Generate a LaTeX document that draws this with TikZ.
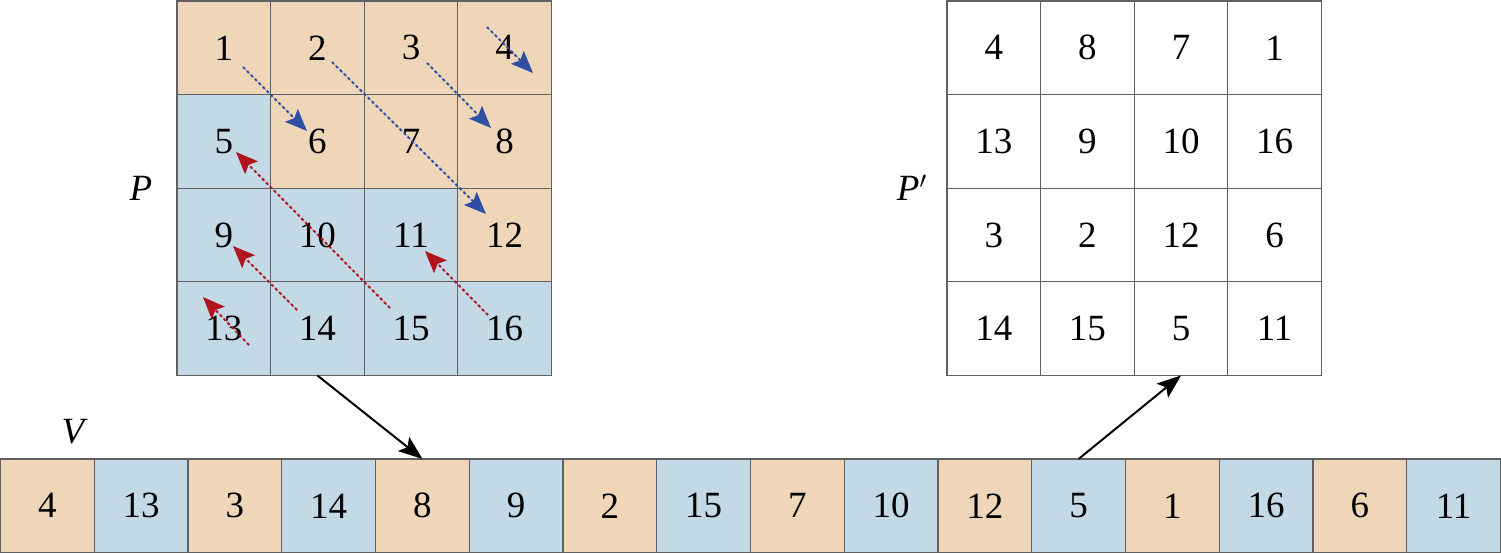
\documentclass[tikz,border=0pt]{standalone}
\usepackage{fontspec}
\setmainfont{Liberation Serif}
\usetikzlibrary{arrows.meta}
\definecolor{ctan}{RGB}{239,214,185}
\definecolor{cblue}{RGB}{196,217,230}
\definecolor{cgrid}{RGB}{96,96,96}
\definecolor{cbluearr}{RGB}{47,79,165}
\definecolor{credarr}{RGB}{176,20,30}
\tikzset{
  cell/.style={draw=cgrid, line width=0.65pt, inner sep=0pt, outer sep=0pt, minimum size=46.85pt, font=\fontsize{18.5}{20}\selectfont},
  lbl/.style={font=\fontsize{18.5}{20}\selectfont\itshape, inner sep=0pt},
  dotarr/.style={line width=1pt, dash pattern=on 1.4pt off 1.4pt, -{Stealth[length=11pt,width=9pt,inset=2pt]}},
  bluearr/.style={dotarr, draw=cbluearr, fill=cbluearr},
  redarr/.style={dotarr, draw=credarr, fill=credarr},
  maparr/.style={line width=1pt, draw=black, -{Stealth[length=12pt,width=9pt,inset=2.5pt]}}
}
\begin{document}
\begin{tikzpicture}[x=0.5pt,y=-0.5pt]
\useasboundingbox (0,0) rectangle (1501,553);
% matrix P
\foreach \lab/\col [count=\k from 0] in {1/ctan,2/ctan,3/ctan,4/ctan,5/cblue,6/ctan,7/ctan,8/ctan,9/cblue,10/cblue,11/cblue,12/ctan,13/cblue,14/cblue,15/cblue,16/cblue}{
  \pgfmathtruncatemacro\r{floor(\k/4)}
  \pgfmathtruncatemacro\c{mod(\k,4)}
  \node[cell,fill=\col] (p\lab) at ({177+93.6*(\c+0.5)},{1+93.6*(\r+0.5)}) {\lab};
}
% matrix P'
\foreach \lab [count=\k from 0] in {4,8,7,1,13,9,10,16,3,2,12,6,14,15,5,11}{
  \pgfmathtruncatemacro\r{floor(\k/4)}
  \pgfmathtruncatemacro\c{mod(\k,4)}
  \pgfmathtruncatemacro\n{\k+1}
  \node[cell,fill=white] (q\n) at ({947+93.6*(\c+0.5)},{1+93.6*(\r+0.5)}) {\lab};
}
% vector V
\foreach \lab/\col [count=\k from 0] in {4/ctan,13/cblue,3/ctan,14/cblue,8/ctan,9/cblue,2/ctan,15/cblue,7/ctan,10/cblue,12/ctan,5/cblue,1/ctan,16/cblue,6/ctan,11/cblue}{
  \pgfmathtruncatemacro\n{\k+1}
  \node[cell,fill=\col] (v\n) at ({0.6+93.74*(\k+0.5)},{459+46.8}) {\lab};
}
% labels
\node[lbl] (lP) at (141,188) {P};
\node[lbl] (lQ) at (912,188) {P$'$};
\node[lbl] (lV) at (73,432) {V};
% dotted arrows (blue)
\coordinate (b1s) at (243,67);  \coordinate (b1e) at (307,131);
\coordinate (b2s) at (332,62);  \coordinate (b2e) at (486,214);
\coordinate (b3s) at (427,63);  \coordinate (b3e) at (491,128);
\coordinate (b4s) at (487,27);  \coordinate (b4e) at (533,73);
\draw[bluearr] (b1s) -- (b1e);
\draw[bluearr] (b2s) -- (b2e);
\draw[bluearr] (b3s) -- (b3e);
\draw[bluearr] (b4s) -- (b4e);
% dotted arrows (red)
\coordinate (r1s) at (249,345); \coordinate (r1e) at (203,297);
\coordinate (r2s) at (297,310); \coordinate (r2e) at (233,246);
\coordinate (r3s) at (390,308); \coordinate (r3e) at (236,152);
\coordinate (r4s) at (488,315); \coordinate (r4e) at (425,251);
\draw[redarr] (r1s) -- (r1e);
\draw[redarr] (r2s) -- (r2e);
\draw[redarr] (r3s) -- (r3e);
\draw[redarr] (r4s) -- (r4e);
% mapping arrows
\draw[maparr] (p14.south) -- (v5.north);
\draw[maparr] (v12.north) -- (q15.south);
\end{tikzpicture}
\end{document}
